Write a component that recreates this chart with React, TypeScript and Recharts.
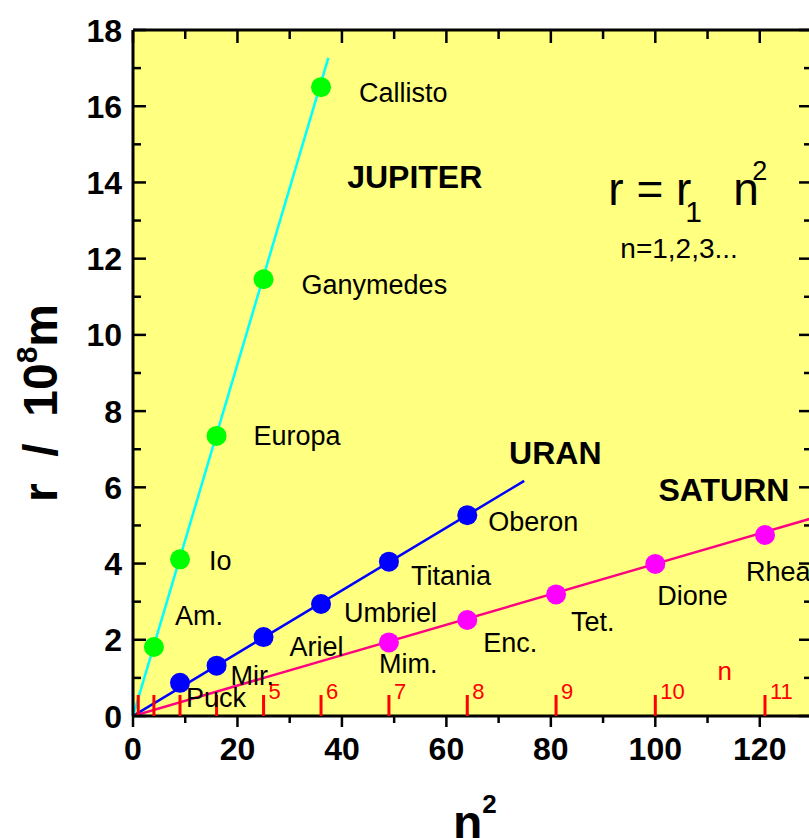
import React from 'react';
import { ComposedChart, XAxis, YAxis, Scatter, Line, ReferenceDot, CartesianGrid } from 'recharts';

const FONT = '"Liberation Sans", Arial, Helvetica, sans-serif';

// ---- data ----
const jupiterMoons = ['Am.', 'Io', 'Europa', 'Ganymedes', 'Callisto'];
const jupiterN2 = [4, 9, 16, 25, 36];
const jupiterR = [1.81, 4.11, 7.35, 11.46, 16.5];

const uranMoons = ['Puck', 'Mir.', 'Ariel', 'Umbriel', 'Titania', 'Oberon'];
const uranN2 = [9, 16, 25, 36, 49, 64];
const uranR = [0.87, 1.32, 2.07, 2.94, 4.05, 5.27];

const saturnMoons = ['Mim.', 'Enc.', 'Tet.', 'Dione', 'Rhea'];
const saturnN2 = [49, 64, 81, 100, 121];
const saturnR = [1.93, 2.52, 3.19, 3.99, 4.75];

const jupiterFitX = [0, 37.4];
const jupiterFitY = [0, 17.27];
const uranFitX = [0, 74.9];
const uranFitY = [0, 6.17];
const saturnFitX = [0, 130];
const saturnFitY = [0, 5.19];

const nValues = [1, 2, 3, 4, 5, 6, 7, 8, 9, 10, 11];
const nLabelFrom = 5;

const xTicks = [0, 10, 20, 30, 40, 50, 60, 70, 80, 90, 100, 110, 120, 130];
const yTicks = [0, 1, 2, 3, 4, 5, 6, 7, 8, 9, 10, 11, 12, 13, 14, 15, 16, 17, 18];

// ---- derived tables ----
const toPts = (names: string[], xs: number[], ys: number[]) =>
  names.map((name, i) => ({ x: xs[i], y: ys[i], name }));
const jupiterData = toPts(jupiterMoons, jupiterN2, jupiterR);
const uranData = toPts(uranMoons, uranN2, uranR);
const saturnData = toPts(saturnMoons, saturnN2, saturnR);
const fit = (xs: number[], ys: number[]) => xs.map((x, i) => ({ x, y: ys[i] }));
const jupiterFit = fit(jupiterFitX, jupiterFitY);
const uranFit = fit(uranFitX, uranFitY);
const saturnFit = fit(saturnFitX, saturnFitY);
const nTickData = nValues.map((n) => ({ x: n * n, y: 0, n }));

// label offsets (px) from the dot centre
const labelOffsets: Record<string, [number, number]> = {
  'Am.': [21, -22], Io: [29, 11], Europa: [37, 9], Ganymedes: [38, 15], Callisto: [38, 15],
  Puck: [6, 24], 'Mir.': [14, 19], Ariel: [26, 19], Umbriel: [23, 18], Titania: [22, 23], Oberon: [21, 16],
  'Mim.': [-10, 31], 'Enc.': [16, 32], 'Tet.': [15, 37], Dione: [2, 41], Rhea: [-19, 46],
};

const makeDot = (fill: string) => (props: any) => {
  const { cx, cy, payload } = props;
  const off = labelOffsets[payload.name] || [0, 0];
  return (
    <g>
      <circle cx={cx} cy={cy} r={10} fill={fill} />
      <text x={cx + off[0]} y={cy + off[1]} fontSize={27} fontFamily={FONT} fill="#000">
        {payload.name}
      </text>
    </g>
  );
};

const NTick = (props: any) => {
  const { cx, cy, payload } = props;
  return (
    <g>
      <line x1={cx} y1={cy} x2={cx} y2={cy - 21} stroke="#FF0000" strokeWidth={3} />
      {payload.n >= nLabelFrom && (
        <text x={cx + 5} y={cy - 17} fontSize={22} fontFamily={FONT} fill="#FF0000">
          {payload.n}
        </text>
      )}
    </g>
  );
};

const BottomTick = (props: any) => {
  const { x, y, payload } = props;
  const v = payload.value;
  const major = v % 20 === 0;
  return (
    <g>
      <line x1={x} y1={y} x2={x} y2={y + (major ? 11 : 7)} stroke="#000" strokeWidth={2.5} />
      {major && (
        <text x={x} y={y + 44} textAnchor="middle" fontSize={32} fontWeight="bold" fontFamily={FONT} fill="#000">
          {v}
        </text>
      )}
    </g>
  );
};

const TopTick = (props: any) => {
  const { x, y, payload } = props;
  const major = payload.value % 20 === 0;
  return <line x1={x} y1={y} x2={x} y2={y + (major ? 13 : 9)} stroke="#000" strokeWidth={2.5} />;
};

const LeftTick = (props: any) => {
  const { x, y, payload } = props;
  const v = payload.value;
  const major = v % 2 === 0;
  return (
    <g>
      <line x1={x} y1={y} x2={x + (major ? 13 : 8)} y2={y} stroke="#000" strokeWidth={2.5} />
      {major && (
        <text x={x - 11} y={y + 11.5} textAnchor="end" fontSize={32} fontWeight="bold" fontFamily={FONT} fill="#000">
          {v}
        </text>
      )}
    </g>
  );
};

const RightTick = (props: any) => {
  const { x, y, payload } = props;
  const major = payload.value % 2 === 0;
  return <line x1={x} y1={y} x2={x - (major ? 13 : 8)} y2={y} stroke="#000" strokeWidth={2.5} />;
};

const YTitle = (props: any) => {
  const vb = props.viewBox || { x: 0, y: 30, width: 133, height: 686 };
  const cx = vb.x + 57;
  const cy = vb.y + vb.height / 2 + 30;
  return (
    <text
      x={cx}
      y={cy}
      transform={`rotate(-90 ${cx} ${cy})`}
      textAnchor="middle"
      fontSize={48}
      fontWeight="bold"
      fontFamily={FONT}
      fill="#000"
      style={{ whiteSpace: 'pre' }}
    >
      {'r  /  10'}
      <tspan dy={-20} fontSize={30}>8</tspan>
      <tspan dy={20}>m</tspan>
    </text>
  );
};

const XTitle = (props: any) => {
  const vb = props.viewBox || { x: 133, y: 716, width: 679, height: 122 };
  return (
    <text x={vb.x + 320} y={vb.y + 123} fontSize={48} fontWeight="bold" fontFamily={FONT} fill="#000">
      n<tspan dy={-26} fontSize={26}>2</tspan>
    </text>
  );
};

// annotation anchors (data coordinates)
const annotations = [
  { key: 'JUPITER', x: 41.0, y: 13.85 },
  { key: 'URAN', x: 72.0, y: 6.61 },
  { key: 'SATURN', x: 100.6, y: 5.64 },
];

const boldLabel = (text: string) => (props: any) => (
  <text x={props.cx} y={props.cy} fontSize={32} fontWeight="bold" fontFamily={FONT} fill="#000">
    {text}
  </text>
);

const Formula = (props: any) => {
  const { cx, cy } = props;
  return (
    <g fontFamily={FONT} fill="#000">
      <text x={cx} y={cy} fontSize={46}>r = r</text>
      <text x={cx + 77} y={cy + 17} fontSize={30}>1</text>
      <text x={cx + 125} y={cy} fontSize={46}>n</text>
      <text x={cx + 144} y={cy - 25} fontSize={27}>2</text>
    </g>
  );
};

const NText = (props: any) => (
  <text x={props.cx} y={props.cy} fontSize={28} fontFamily={FONT} fill="#000">
    n=1,2,3...
  </text>
);

const RedN = (props: any) => (
  <text x={props.cx} y={props.cy} fontSize={26} fontFamily={FONT} fill="#FF0000">
    n
  </text>
);

export default function App() {
  return (
    <div style={{ position: 'absolute', left: 0, top: 0, width: 809, height: 838, overflow: 'hidden', background: '#fff' }}>
      <ComposedChart width={830} height={838} margin={{ top: 0, right: 0, bottom: 0, left: 0 }}>
        <CartesianGrid horizontal={false} vertical={false} fill="#FFFF80" fillOpacity={1} />
        <XAxis
          dataKey="x"
          type="number"
          domain={[0, 130]}
          allowDataOverflow
          ticks={xTicks}
          interval={0}
          tickSize={0}
          tickMargin={0}
          height={122}
          axisLine={{ stroke: '#000', strokeWidth: 3 }}
          tickLine={false}
          tick={<BottomTick />}
          label={{ content: XTitle }}
        />
        <XAxis
          xAxisId="top"
          orientation="top"
          dataKey="x"
          type="number"
          domain={[0, 130]}
          allowDataOverflow
          ticks={xTicks}
          interval={0}
          tickSize={0}
          tickMargin={0}
          height={30}
          axisLine={{ stroke: '#000', strokeWidth: 3 }}
          tickLine={false}
          tick={<TopTick />}
        />
        <YAxis
          dataKey="y"
          type="number"
          domain={[0, 18]}
          allowDataOverflow
          ticks={yTicks}
          interval={0}
          tickSize={0}
          tickMargin={0}
          width={133}
          axisLine={{ stroke: '#000', strokeWidth: 3 }}
          tickLine={false}
          tick={<LeftTick />}
          label={{ content: YTitle }}
        />
        <YAxis
          yAxisId="right"
          orientation="right"
          type="number"
          domain={[0, 18]}
          allowDataOverflow
          ticks={yTicks}
          interval={0}
          tickSize={0}
          tickMargin={0}
          width={18}
          axisLine={{ stroke: '#000', strokeWidth: 3 }}
          tickLine={false}
          tick={<RightTick />}
        />

        <Scatter data={nTickData} shape={<NTick />} isAnimationActive={false} />
        <Scatter data={jupiterData} shape={makeDot('#00FF00')} isAnimationActive={false} />
        <Line data={uranFit} dataKey="y" type="linear" stroke="#0000FF" strokeWidth={2.5} dot={false} activeDot={false} isAnimationActive={false} />
        <Scatter data={uranData} shape={makeDot('#0000FF')} isAnimationActive={false} />
        <Scatter data={saturnData} shape={makeDot('#FF00FF')} isAnimationActive={false} />
        <Line data={jupiterFit} dataKey="y" type="linear" stroke="#00FFFF" strokeWidth={2.5} dot={false} activeDot={false} isAnimationActive={false} />
        <Line data={saturnFit} dataKey="y" type="linear" stroke="#FF0080" strokeWidth={2.5} dot={false} activeDot={false} isAnimationActive={false} />

        {annotations.map((a) => (
          <ReferenceDot key={a.key} x={a.x} y={a.y} r={0} shape={boldLabel(a.key)} />
        ))}
        <ReferenceDot x={91.0} y={13.41} r={0} shape={Formula} />
        <ReferenceDot x={93.3} y={12.02} r={0} shape={NText} />
        <ReferenceDot x={111.9} y={0.94} r={0} shape={RedN} />
      </ComposedChart>
    </div>
  );
}
